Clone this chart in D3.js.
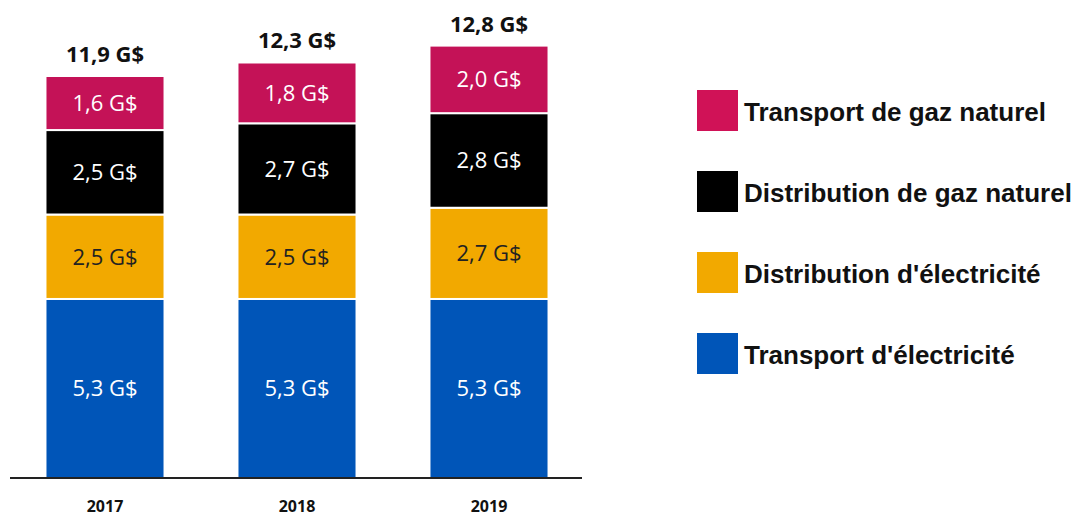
<!DOCTYPE html>
<html>
<head>
<meta charset="utf-8">
<script src="https://cdn.jsdelivr.net/npm/d3@7"></script>
<style>
  body { margin: 0; background: #fff; }
  svg { display: block; }
</style>
</head>
<body>
<svg id="chart" width="1079" height="517"></svg>
<script>
// data (G$)
const years = ["2017", "2018", "2019"]
const seriesNames = ["Transport d'électricité", "Distribution d'électricité", "Distribution de gaz naturel", "Transport de gaz naturel"]
const transportElec = [5.3, 5.3, 5.3]
const distribElec = [2.5, 2.5, 2.7]
const distribGaz = [2.5, 2.7, 2.8]
const transportGaz = [1.6, 1.8, 2.0]
const totals = [11.9, 12.3, 12.8]

const colors = ["#0055b8", "#f2a900", "#000000", "#c41257"]
const legendColors = ["#0055b8", "#f2a900", "#000000", "#d01257"]
const labelColors = ["#ffffff", "#222222", "#ffffff", "#ffffff"]

const fmt = v => d3.format(".1f")(v).replace(".", ",") + " G$"

const svg = d3.select("#chart")
const baseline = 478

const rows = years.map((y, i) => ({
  year: y,
  [seriesNames[0]]: transportElec[i],
  [seriesNames[1]]: distribElec[i],
  [seriesNames[2]]: distribGaz[i],
  [seriesNames[3]]: transportGaz[i]
}))

const stack = d3.stack().keys(seriesNames)(rows)

const x = d3.scaleBand().domain(years).range([9, 585]).paddingInner(0.38).paddingOuter(0.19)
const y = d3.scaleLinear().domain([0, 14.15]).range([baseline, 0])

const layers = svg.selectAll(".layer")
  .data(stack)
  .enter().append("g")
  .attr("class", "layer")

layers.selectAll("rect")
  .data((d, i) => d.map(p => ({p: p, i: i})))
  .enter().append("rect")
  .attr("x", d => x(d.p.data.year))
  .attr("width", x.bandwidth())
  .attr("y", d => y(d.p[1]))
  .attr("height", d => y(d.p[0]) - y(d.p[1]))
  .attr("fill", d => colors[d.i])
  .attr("stroke", "#ffffff")
  .attr("stroke-width", 2)

layers.selectAll("text")
  .data((d, i) => d.map(p => ({p: p, i: i})))
  .enter().append("text")
  .attr("x", d => x(d.p.data.year) + x.bandwidth() / 2)
  .attr("y", d => (y(d.p[0]) + y(d.p[1])) / 2)
  .attr("dy", "0.36em")
  .attr("text-anchor", "middle")
  .attr("fill", d => labelColors[d.i])
  .style("font-family", "'Open Sans', sans-serif")
  .style("font-size", "22px")
  .text(d => fmt(d.p[1] - d.p[0]))

// totals above bars
svg.selectAll(".total")
  .data(years)
  .enter().append("text")
  .attr("class", "total")
  .attr("x", d => x(d) + x.bandwidth() / 2)
  .attr("y", (d, i) => y(totals[i]) - 14)
  .attr("text-anchor", "middle")
  .style("font-family", "'Open Sans', sans-serif")
  .style("font-weight", "bold")
  .style("font-size", "22px")
  .attr("fill", "#111")
  .text((d, i) => fmt(totals[i]))

// x axis
const xAxis = svg.append("g")
  .attr("transform", "translate(0," + baseline + ")")
  .call(d3.axisBottom(x).tickSize(0).tickSizeOuter(0))
xAxis.select(".domain").attr("stroke", "#222").attr("stroke-width", 2)
  .attr("d", "M10,0H582")
xAxis.selectAll("text")
  .attr("y", 34)
  .attr("dy", 0)
  .style("font-family", "'Open Sans', sans-serif")
  .style("font-weight", "bold")
  .style("font-size", "16px")
  .attr("fill", "#111")

// legend, top item is last series
const legendItems = seriesNames.slice().reverse()
const legend = svg.selectAll(".legend")
  .data(legendItems)
  .enter().append("g")
  .attr("class", "legend")
  .attr("transform", (d, i) => "translate(697," + (90 + i * 81) + ")")

legend.append("rect")
  .attr("width", 41)
  .attr("height", 41)
  .attr("fill", (d, i) => legendColors[3 - i])

legend.append("text")
  .attr("x", 47)
  .attr("y", 31)
  .style("font-family", "'Liberation Sans', Arial, sans-serif")
  .style("font-weight", "bold")
  .style("font-size", "26px")
  .attr("fill", "#111")
  .text(d => d)
</script>
</body>
</html>
